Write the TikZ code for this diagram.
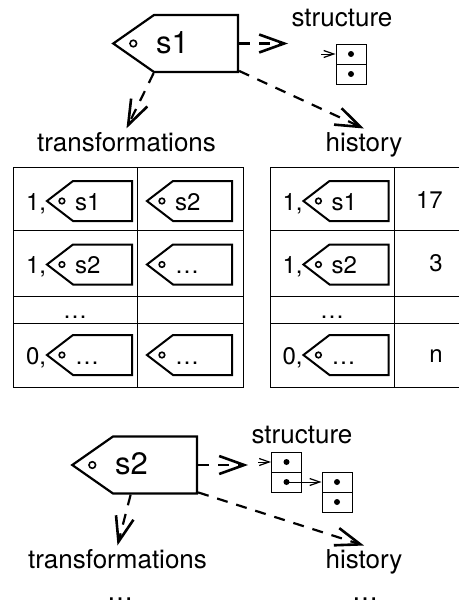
\documentclass[tikz,border=0pt]{standalone}
\usepackage{fontspec}
\setmainfont{TeX Gyre Heros}
\usetikzlibrary{shapes.symbols,arrows.meta}

\tikzset{
  bigtag/.style={signal, signal to=west, signal from=nowhere, signal pointer angle=70,
    draw, line width=2.2pt, text width=80pt, align=left, inner xsep=2pt, inner ysep=17pt,
    text height=21pt, text depth=2pt, font=\fontsize{31}{33}\selectfont,
    path picture={\draw[line width=1.6pt] ([xshift=20pt]path picture bounding box.west) circle (3.3pt);}},
  smalltag/.style={signal, signal to=west, signal from=nowhere, signal pointer angle=75,
    draw, line width=2pt, text width=55pt, align=left, inner xsep=2pt, inner ysep=10pt,
    text height=19pt, text depth=1pt, font=\fontsize{24}{26}\selectfont,
    path picture={\draw[line width=1.6pt] ([xshift=15pt]path picture bounding box.west) circle (2.8pt);}},
  cell/.style={draw, line width=1pt, minimum width=30pt, minimum height=20pt, inner sep=0pt,
    path picture={\fill (path picture bounding box.center) circle (3pt);}},
  link/.style={line width=2.2pt, dash pattern=on 11pt off 9pt},
  tiny/.style={line width=1pt, >={Straight Barb[length=10pt,width=7pt,line width=1.2pt]}},
  grid/.style={line width=1pt}
}

\begin{document}
\begin{tikzpicture}[x=1pt, y=-1pt, font=\fontsize{26}{30}\selectfont,
    >={Straight Barb[length=25pt,width=18pt,line width=2.6pt]}]
  \useasboundingbox (0,0) rectangle (459,605);

  % first state
  \node[bigtag] (s1) at (196,43.5) {s1};
  \node[anchor=base] (struct1) at (342,27) {structure};
  \node[cell] (c1a) at (351,54) {};
  \node[cell] (c1b) at (351,74) {};
  \node[anchor=base] (trans1) at (126.5,151) {transformations};
  \node[anchor=base] (hist1) at (364,151) {history};
  \coordinate (p1) at (288,43.5);
  \coordinate (q1) at (321,54);
  \draw[link, ->] (s1.east) -- (p1);
  \draw[tiny, ->] (q1) -- (c1a.west);
  \draw[link, ->] (s1.south west) -- (trans1.north);
  \draw[link, ->] (s1.south east) -- (hist1.north);

  % tables
  \draw[grid] (13,167) rectangle (243,387.5);
  \draw[grid] (137,167) -- (137,387.5);
  \draw[grid] (459,167) -- (270,167) -- (270,387.5) -- (459,387.5);
  \draw[grid] (394,167) -- (394,387.5);
  \foreach \y in {230.5, 296.5, 323} {
    \draw[grid] (13,\y) -- (243,\y);
    \draw[grid] (270,\y) -- (459,\y);
  }
  \foreach \r/\y/\p/\a/\b/\n in {1/201/{1,}/s1/s2/17, 2/264.5/{1,}/s2/\ldots/3, 4/355/{0,}/\ldots/\ldots/n} {
    \node[smalltag] (la\r) at (102.5,\y) {\a};
    \node[smalltag] (lb\r) at (202.5,\y) {\b};
    \node[anchor=base east, inner sep=0pt, font=\fontsize{24}{26}\selectfont] (lp\r) at ([xshift=1pt,yshift=-9pt]la\r.west) {\p};
    \node[smalltag] (ra\r) at (359,\y) {\a};
    \node[anchor=base east, inner sep=0pt, font=\fontsize{24}{26}\selectfont] (rp\r) at ([xshift=1pt,yshift=-9pt]ra\r.west) {\p};
    \node[anchor=base east, inner sep=0pt, font=\fontsize{24}{26}\selectfont] (rn\r) at ([yshift=-7pt]443,\y) {\n};
  }
  \node[anchor=base, font=\fontsize{24}{26}\selectfont] (ldots) at (75,318) {\ldots};
  \node[anchor=base, font=\fontsize{24}{26}\selectfont] (rdots) at (332,318) {\ldots};

  % second state
  \node[bigtag] (s2) at (155,465) {s2};
  \node[anchor=base] (struct2) at (302,443) {structure};
  \node[cell] (c2a) at (286.5,462) {};
  \node[cell] (c2b) at (286.5,482) {};
  \node[cell] (c3a) at (337,482) {};
  \node[cell] (c3b) at (337,502) {};
  \node[anchor=base] (trans2) at (117.5,568) {transformations};
  \node[anchor=base] (hist2) at (364,568) {history};
  \node[anchor=base] (more1) at (120,600) {\ldots};
  \node[anchor=base] (more2) at (365,600) {\ldots};
  \coordinate (p2) at (248,465);
  \coordinate (q2) at (258,462);
  \draw[link, ->] (s2.east) -- (p2);
  \draw[tiny, ->] (q2) -- (c2a.west);
  \draw[tiny, ->] (c2b.center) -- (c3a.west);
  \draw[link, ->] ([xshift=18pt]s2.south west) -- (trans2.north);
  \draw[link, ->] (s2.south east) -- (hist2.north);
\end{tikzpicture}
\end{document}
